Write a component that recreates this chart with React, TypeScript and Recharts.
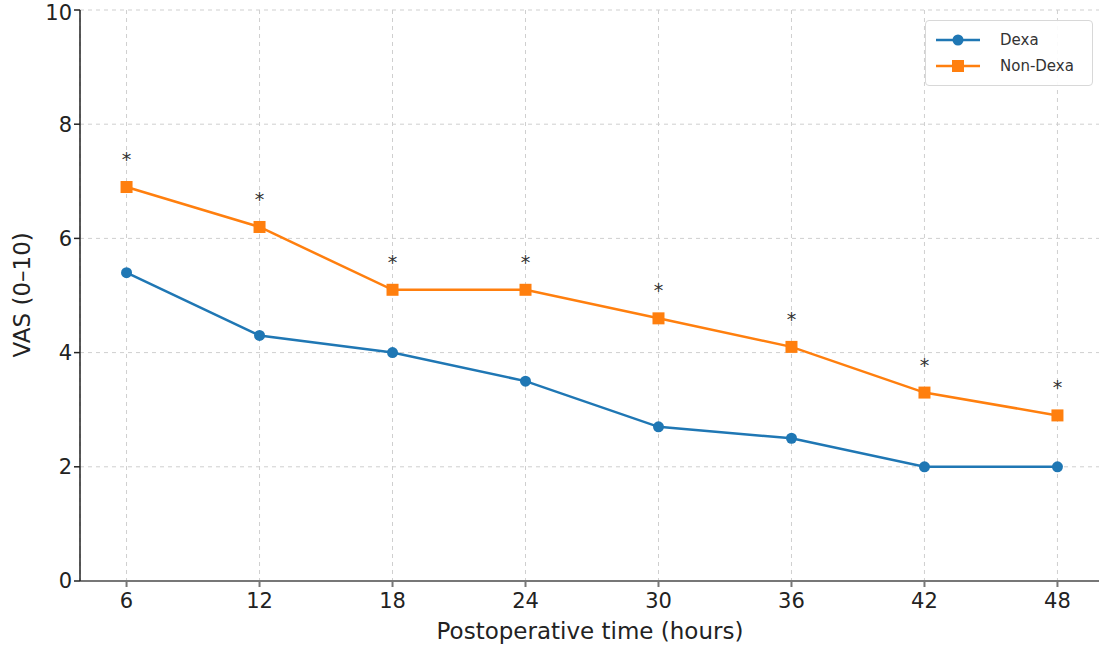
import React from 'react';
import { LineChart, Line, XAxis, YAxis, CartesianGrid, LabelList } from 'recharts';

const hours = [6, 12, 18, 24, 30, 36, 42, 48];
const dexa = [5.4, 4.3, 4.0, 3.5, 2.7, 2.5, 2.0, 2.0];
const nonDexa = [6.9, 6.2, 5.1, 5.1, 4.6, 4.1, 3.3, 2.9];
const sigMarks = ['*', '*', '*', '*', '*', '*', '*', '*'];
const yTicks = [0, 2, 4, 6, 8, 10];

const BLUE = '#1f77b4';
const ORANGE = '#ff7f0e';
const FONT = '"DejaVu Sans", sans-serif';

const data = hours.map((h, i) => ({
  hour: h,
  dexa: dexa[i],
  nonDexa: nonDexa[i],
  sig: sigMarks[i],
}));

const SquareDot = (props: any) => {
  const { cx, cy } = props;
  if (cx == null || cy == null) return null;
  return <rect x={cx - 6} y={cy - 6} width={12} height={12} fill={ORANGE} />;
};

const SigLabel = (props: any) => {
  const { x, y, value } = props;
  return (
    <text x={x} y={y - 21} textAnchor="middle" fontSize={19} fill="#333" fontFamily={FONT}>
      {value}
    </text>
  );
};

// legend drawn as an overlay so it does not shrink the plot area
const LegendBox = () => (
  <div
    style={{
      position: 'absolute',
      top: 20,
      left: 925,
      border: '1px solid #d8d8d8',
      borderRadius: 4,
      background: 'rgba(255,255,255,0.9)',
      padding: '6px 8px 6px 10px',
      fontFamily: FONT,
      fontSize: 15,
      color: '#333',
      width: 168,
      boxSizing: 'border-box',
      whiteSpace: 'nowrap',
    }}
  >
    {[
      { name: 'Dexa', color: BLUE, square: false },
      { name: 'Non-Dexa', color: ORANGE, square: true },
    ].map((item) => (
      <div key={item.name} style={{ display: 'flex', alignItems: 'center', height: 26 }}>
        <svg width={44} height={14} style={{ marginRight: 20, flexShrink: 0 }}>
          <line x1={0} y1={7} x2={44} y2={7} stroke={item.color} strokeWidth={2.5} />
          {item.square ? (
            <rect x={16} y={1} width={12} height={12} fill={item.color} />
          ) : (
            <circle cx={22} cy={7} r={5.5} fill={item.color} />
          )}
        </svg>
        <span>{item.name}</span>
      </div>
    ))}
  </div>
);

export default function App() {
  return (
    <div style={{ position: 'fixed', left: 0, top: 0, width: 1099, height: 648, overflow: 'hidden', background: '#fff' }}>
      <LineChart
        width={1110}
        height={648}
        data={data}
        margin={{ top: 10, right: 6, left: 0, bottom: 0 }}
      >
        <CartesianGrid strokeDasharray="4 4" stroke="#cfcfcf" />
        <XAxis
          dataKey="hour"
          type="number"
          domain={[3.9, 50.1]}
          ticks={hours}
          height={67}
          stroke="#777"
          strokeWidth={2}
          tickSize={6}
          tick={{ fontSize: 21, fill: '#222', fontFamily: FONT, dy: 4 }}
          label={{ value: 'Postoperative time (hours)', position: 'insideBottom', offset: 9, dx: -2, fontSize: 23, fill: '#222', fontFamily: FONT }}
        />
        <YAxis
          type="number"
          domain={[0, 10]}
          ticks={yTicks}
          width={80}
          stroke="#222"
          strokeWidth={1.5}
          tickSize={6}
          tick={{ fontSize: 21, fill: '#222', fontFamily: FONT }}
          label={{ value: 'VAS (0–10)', angle: -90, position: 'insideLeft', offset: 22, fontSize: 23, fill: '#222', fontFamily: FONT, dy: 62 }}
        />
        <Line
          dataKey="dexa"
          name="Dexa"
          stroke={BLUE}
          strokeWidth={2.5}
          dot={{ r: 5.5, fill: BLUE, stroke: BLUE, strokeWidth: 0 }}
          activeDot={false}
          isAnimationActive={false}
        />
        <Line
          dataKey="nonDexa"
          name="Non-Dexa"
          stroke={ORANGE}
          strokeWidth={2.5}
          dot={<SquareDot />}
          activeDot={false}
          isAnimationActive={false}
        >
          <LabelList dataKey="sig" content={<SigLabel />} />
        </Line>
      </LineChart>
      <LegendBox />
    </div>
  );
}
